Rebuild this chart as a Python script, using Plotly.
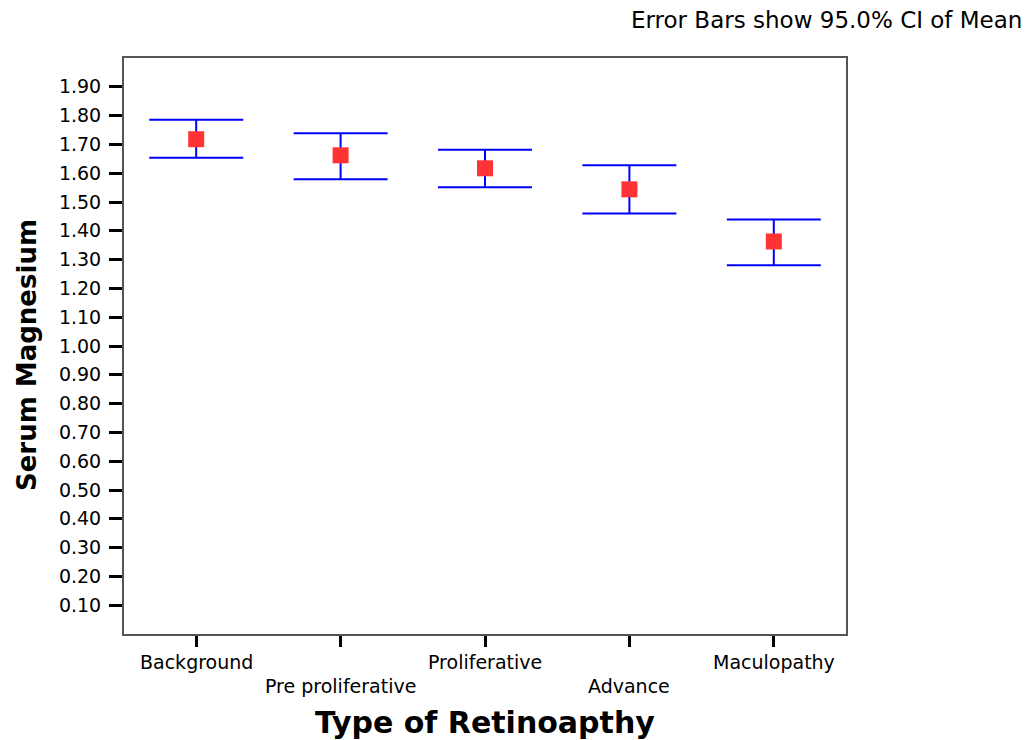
import plotly.graph_objects as go

categories = ["Background", "Pre proliferative", "Proliferative", "Advance", "Maculopathy"]
means = [1.718, 1.662, 1.617, 1.544, 1.363]
ci_upper = [1.786, 1.739, 1.681, 1.628, 1.439]
ci_lower = [1.654, 1.579, 1.551, 1.460, 1.280]
y_ticks = [0.10, 0.20, 0.30, 0.40, 0.50, 0.60, 0.70, 0.80, 0.90, 1.00,
           1.10, 1.20, 1.30, 1.40, 1.50, 1.60, 1.70, 1.80, 1.90]

err_plus = [u - m for u, m in zip(ci_upper, means)]
err_minus = [m - l for m, l in zip(means, ci_lower)]
idx = list(range(len(categories)))

W, H = 1026, 732
L, R, T, B = 116, 188, 50, 106
PW, PH = W - L - R, H - T - B

fig = go.Figure()
fig.add_trace(go.Scatter(
    x=idx, y=means, mode="markers",
    marker=dict(symbol="square", size=16, color="#ff3333", line=dict(width=0)),
    error_y=dict(type="data", symmetric=False, array=err_plus, arrayminus=err_minus,
                 color="#0000ff", thickness=2, width=47),
    showlegend=False, hoverinfo="skip",
))

base_font = dict(family="DejaVu Sans, sans-serif", size=19, color="#000000")

fig.update_layout(
    width=W, height=H,
    margin=dict(l=L, r=R, t=T, b=B),
    paper_bgcolor="white", plot_bgcolor="white",
    font=base_font,
    xaxis=dict(
        range=[-0.5, 4.5], tickvals=idx, showticklabels=False,
        ticks="outside", ticklen=11, tickwidth=3, tickcolor="#000000",
        showline=True, linecolor="#555555", linewidth=2, mirror=True,
        showgrid=False, zeroline=False, fixedrange=True,
    ),
    yaxis=dict(
        range=[0, 2.0], tickvals=y_ticks, tickformat=".2f",
        ticks="outside", ticklen=13, tickwidth=3, tickcolor="#000000",
        ticklabelstandoff=4,
        tickfont=dict(family="DejaVu Sans, sans-serif", size=19),
        showline=True, linecolor="#555555", linewidth=2, mirror=True,
        showgrid=False, zeroline=False, fixedrange=True,
    ),
)

for i, c in enumerate(categories):
    fig.add_annotation(
        x=i, y=0, xref="x", yref="paper", text=c, showarrow=False,
        yanchor="middle", xanchor="center",
        yshift=-28 if i % 2 == 0 else -52,
        font=dict(size=19),
    )

fig.add_annotation(
    x=0.5, y=0, xref="paper", yref="paper", text="<b>Type of Retinoapthy</b>",
    showarrow=False, yanchor="middle", yshift=-88,
    font=dict(family="DejaVu Sans, sans-serif", size=30),
)
fig.add_annotation(
    x=(19 - L) / PW, y=(T + PH - 347) / PH, xref="paper", yref="paper",
    text="<b>Serum Magnesium</b>", textangle=-90, showarrow=False,
    xanchor="center", yanchor="middle",
    font=dict(family="DejaVu Sans, sans-serif", size=26),
)
fig.add_annotation(
    x=(1016 - L) / PW, y=(T + PH - 12) / PH, xref="paper", yref="paper",
    text="Error Bars show 95.0% CI of Mean", showarrow=False,
    xanchor="right", yanchor="middle",
    font=dict(family="DejaVu Sans, sans-serif", size=23),
)

fig.write_html("out.html")
